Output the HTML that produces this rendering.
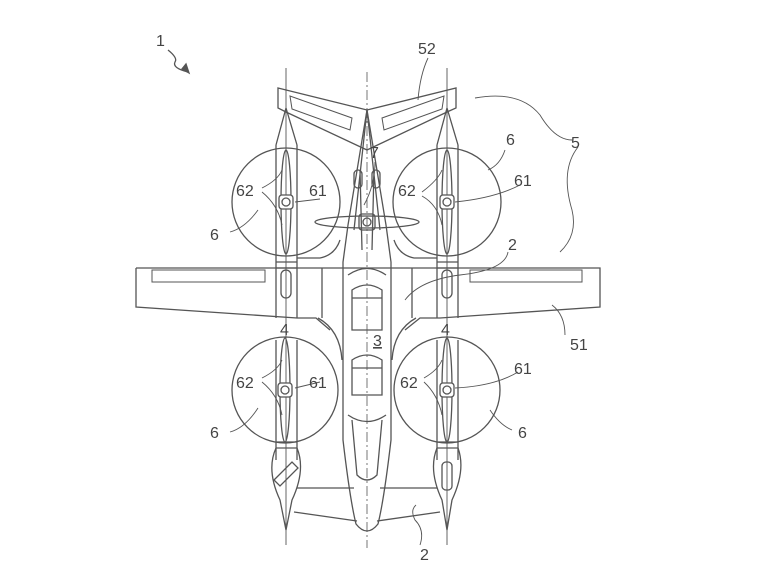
<!DOCTYPE html>
<html><head><meta charset="utf-8"><style>
html,body{margin:0;padding:0;background:#fff;}
svg{display:block}
text{font-family:"Liberation Sans",sans-serif;font-size:16px;fill:#444}
</style></head><body>
<svg width="768" height="586" viewBox="0 0 768 586" xmlns="http://www.w3.org/2000/svg">
<g fill="none" stroke="#555" stroke-width="1.3">
<line x1="367" y1="72" x2="367" y2="548" stroke-dasharray="10,3,2,3" stroke-width="0.8"/>
<line x1="286" y1="68" x2="286" y2="545" stroke-width="0.9"/>
<line x1="447" y1="68" x2="447" y2="545" stroke-width="0.9"/>
<path d="M278,88 L367,110 L456,88 L456,108 L447,112 L367,150 L286,112 L278,108 Z"/>
<path d="M290,96 L292,109 L350,130 L352,118 Z" stroke-width="1"/>
<path d="M444,96 L442,109 L384,130 L382,118 Z" stroke-width="1"/>
<path d="M136,268 L600,268 L600,307 L440,318 L420,318 L405,330 M136,268 L136,307 L297,318 L316,318 L330,330"/>
<path d="M152,270 L265,270 L265,282 L152,282 Z M470,270 L582,270 L582,282 L470,282 Z" stroke-width="1"/>
<path d="M322,268 L322,318 M412,268 L412,318"/>
<path d="M297,258 L320,258 Q335,255 340,240 M437,258 L414,258 Q399,255 394,240"/>
<path d="M318,318 Q340,330 342,360 M416,318 Q394,330 392,360"/>
<path d="M367,110 L348,225 L343,262 L343,440 Q350,500 356,524 Q367,538 378,524 Q384,500 391,440 L391,262 L386,225 Z"/>
<path d="M367,110 L354,230 M367,110 L380,230 M360,170 L362,250 M374,170 L372,250"/>
<path d="M348,275 Q367,262 386,275 M348,415 Q367,428 386,415"/>
<path d="M352,290 Q367,280 382,290 L382,330 L352,330 Z M352,298 L382,298"/>
<path d="M352,360 Q367,350 382,360 L382,395 L352,395 Z M352,368 L382,368"/>
<path d="M352,420 L357,475 Q367,485 377,475 L382,420"/>
<rect x="354" y="170" width="8" height="18" rx="4"/>
<rect x="372" y="170" width="8" height="18" rx="4"/>
<ellipse cx="367" cy="222" rx="52" ry="6"/>
<rect x="359" y="214" width="16" height="16" rx="3"/>
<circle cx="367" cy="222" r="4"/>
<path d="M276,340 L276,460 M297,340 L297,460 M276,145 L276,318 M297,145 L297,318 M286,108 L276,145 M286,108 L297,145"/>
<path d="M437,340 L437,460 M458,340 L458,460 M437,145 L437,318 M458,145 L458,318 M447,108 L437,145 M447,108 L458,145"/>
<path d="M276,262 L297,262 M276,268 L297,268 M437,262 L458,262 M437,268 L458,268"/>
<path d="M276,442 L297,442 M276,448 L297,448 M437,442 L458,442 M437,448 L458,448"/>
<rect x="281" y="270" width="10" height="28" rx="5"/>
<rect x="442" y="270" width="10" height="28" rx="5"/>
<circle cx="286" cy="202" r="54"/>
<circle cx="447" cy="202" r="54"/>
<circle cx="285" cy="390" r="53"/>
<circle cx="447" cy="390" r="53"/>
<ellipse cx="286" cy="202" rx="5" ry="52"/>
<ellipse cx="447" cy="202" rx="5" ry="52"/>
<ellipse cx="285" cy="390" rx="5" ry="52"/>
<ellipse cx="447" cy="390" rx="5" ry="52"/>
<rect x="279" y="195" width="14" height="14" rx="3" fill="#fff"/>
<rect x="440" y="195" width="14" height="14" rx="3" fill="#fff"/>
<rect x="278" y="383" width="14" height="14" rx="3" fill="#fff"/>
<rect x="440" y="383" width="14" height="14" rx="3" fill="#fff"/>
<circle cx="286" cy="202" r="4"/><circle cx="447" cy="202" r="4"/>
<circle cx="285" cy="390" r="4"/><circle cx="447" cy="390" r="4"/>
<path d="M276,448 Q266,470 280,500 L286,530 L292,500 Q306,470 297,448"/>
<path d="M437,448 Q428,470 442,500 L447,530 L452,500 Q466,470 458,448"/>
<path d="M274,480 L292,462 L298,468 L280,486 Z"/>
<rect x="442" y="462" width="10" height="28" rx="4"/>
<path d="M297,488 L354,488 M380,488 L437,488 M294,512 L357,521 M377,521 L440,512"/>
<path d="M168,50 Q178,58 175,62 Q172,68 188,72"/>
<path d="M186,64 L189,73 L182,69 Z" fill="#555"/>
<path d="M428,58 Q420,75 418,100" stroke-width="0.9"/>
<path d="M475,98 Q520,90 540,115 Q555,140 572,140" stroke-width="0.9"/>
<path d="M578,147 Q560,170 572,210 Q578,235 560,252" stroke-width="0.9"/>
<path d="M505,150 Q500,165 488,170" stroke-width="0.9"/>
<path d="M520,185 Q495,198 455,202" stroke-width="0.9"/>
<path d="M262,188 Q278,180 282,170 M262,192 Q278,205 282,225" stroke-width="0.9"/>
<path d="M422,192 Q438,180 442,170 M422,196 Q438,205 442,225" stroke-width="0.9"/>
<path d="M320,199 L295,202" stroke-width="0.9"/>
<path d="M230,232 Q245,228 258,210" stroke-width="0.9"/>
<path d="M375,162 Q375,185 364,205" stroke-width="0.9"/>
<path d="M508,252 Q505,270 460,275 Q420,280 405,300" stroke-width="0.9"/>
<path d="M565,335 Q565,315 552,305" stroke-width="0.9"/>
<path d="M262,378 Q278,370 282,360 M262,382 Q278,395 282,415" stroke-width="0.9"/>
<path d="M424,378 Q438,370 442,360 M424,382 Q438,395 442,415" stroke-width="0.9"/>
<path d="M320,382 L295,388" stroke-width="0.9"/>
<path d="M518,372 Q495,386 455,388" stroke-width="0.9"/>
<path d="M230,432 Q245,428 258,408" stroke-width="0.9"/>
<path d="M512,430 Q500,425 490,410" stroke-width="0.9"/>
<path d="M420,545 Q425,530 415,520 Q410,510 416,505" stroke-width="0.9"/>
</g>
<text x="156" y="46">1</text>
<text x="418" y="54">52</text>
<text x="571" y="148">5</text>
<text x="506" y="145">6</text>
<text x="514" y="186">61</text>
<text x="236" y="196">62</text>
<text x="309" y="196">61</text>
<text x="398" y="196">62</text>
<text x="210" y="240">6</text>
<text x="370" y="158">7</text>
<text x="508" y="250">2</text>
<text x="570" y="350">51</text>
<text x="280" y="335">4</text>
<text x="441" y="335">4</text>
<text x="373" y="346" style="text-decoration:underline">3</text>
<text x="236" y="388">62</text>
<text x="309" y="388">61</text>
<text x="400" y="388">62</text>
<text x="514" y="374">61</text>
<text x="210" y="438">6</text>
<text x="518" y="438">6</text>
<text x="420" y="560">2</text>
</svg>
</body></html>
